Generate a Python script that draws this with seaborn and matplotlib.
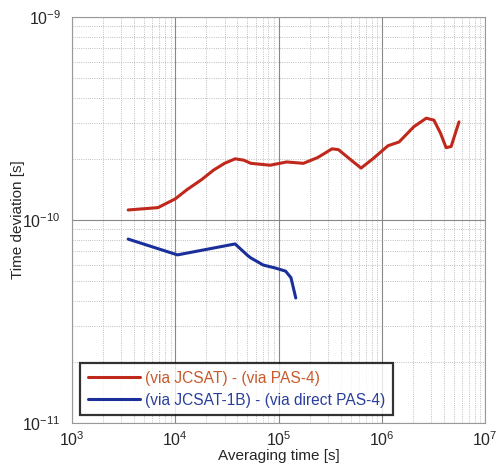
import numpy as np
import matplotlib
matplotlib.use("Agg")
import matplotlib.pyplot as plt
import seaborn as sns
import pandas as pd
from matplotlib.ticker import LogLocator, NullFormatter

sns.set_style("white")
plt.rcParams['font.family'] = ['Liberation Sans', 'DejaVu Sans']
plt.rcParams['mathtext.default'] = 'regular'

# averaging time [s] and time deviation [s]
tau_red = [3.5e3, 6.8e3, 1.0e4, 1.3e4, 1.8e4, 2.35e4, 3.0e4, 3.8e4, 4.6e4, 5.4e4, 8.3e4,
           1.2e5, 1.74e5, 2.4e5, 3.3e5, 3.8e5, 5.0e5, 6.3e5, 8.2e5, 1.15e6, 1.47e6,
           2.05e6, 2.7e6, 3.2e6, 3.7e6, 4.2e6, 4.7e6, 5.6e6]
tdev_red = [1.12e-10, 1.15e-10, 1.27e-10, 1.41e-10, 1.58e-10, 1.76e-10, 1.9e-10, 2.0e-10,
            1.97e-10, 1.9e-10, 1.86e-10, 1.93e-10, 1.9e-10, 2.03e-10, 2.24e-10, 2.22e-10,
            1.98e-10, 1.80e-10, 2.0e-10, 2.32e-10, 2.42e-10, 2.88e-10, 3.17e-10, 3.1e-10,
            2.68e-10, 2.27e-10, 2.3e-10, 3.04e-10]

tau_blue = [3.5e3, 1.05e4, 3.8e4, 5.0e4, 5.4e4, 6.5e4, 7.1e4, 9.3e4, 1.17e5, 1.32e5, 1.47e5]
tdev_blue = [8.05e-11, 6.73e-11, 7.62e-11, 6.7e-11, 6.5e-11, 6.16e-11, 6.0e-11, 5.8e-11,
             5.6e-11, 5.2e-11, 4.13e-11]

labels = ["(via JCSAT) - (via PAS-4)", "(via JCSAT-1B) - (via direct PAS-4)"]
colors = ["#c0281c", "#1a2f9a"]

df = pd.concat([
    pd.DataFrame({"tau": tau_red, "tdev": tdev_red, "series": labels[0]}),
    pd.DataFrame({"tau": tau_blue, "tdev": tdev_blue, "series": labels[1]}),
])

fig, ax = plt.subplots(figsize=(5, 4.68), dpi=100)
fig.subplots_adjust(left=0.144, right=0.97, top=0.964, bottom=0.096)

sns.lineplot(data=df, x="tau", y="tdev", hue="series", palette=colors,
             linewidth=2.2, sort=False, ax=ax)

ax.set_xscale("log")
ax.set_yscale("log")
ax.set_xlim(1e3, 1e7)
ax.set_ylim(1e-11, 1e-9)

ax.xaxis.set_minor_locator(LogLocator(base=10, subs=np.arange(2, 10)))
ax.yaxis.set_minor_locator(LogLocator(base=10, subs=np.arange(2, 10)))
ax.xaxis.set_minor_formatter(NullFormatter())
ax.yaxis.set_minor_formatter(NullFormatter())
ax.grid(which="major", color="#888888", linewidth=0.8)
ax.grid(which="minor", color="#aaaaaa", linewidth=0.6, linestyle=":")
ax.tick_params(which="both", length=0, labelsize=11.5)
ax.tick_params(axis="x", pad=5)
ax.tick_params(axis="y", pad=8)

for s in ax.spines.values():
    s.set_color("#999999")
    s.set_linewidth(0.8)

ax.set_xlabel("Averaging time [s]", fontsize=11, labelpad=0)
ax.set_ylabel("Time deviation [s]", fontsize=11)
ax.yaxis.set_label_coords(-0.115, 0.5)

leg = ax.legend(loc="lower left", fontsize=11.2, frameon=True, fancybox=False,
                borderaxespad=0.5, borderpad=0.5, handlelength=3.4,
                handletextpad=0.3, labelspacing=0.45)
leg.get_frame().set_edgecolor("black")
leg.get_frame().set_linewidth(1.6)
for txt, c in zip(leg.get_texts(), ["#c85a2a", "#2a3f9a"]):
    txt.set_color(c)

fig.savefig("out.png", dpi=100)
